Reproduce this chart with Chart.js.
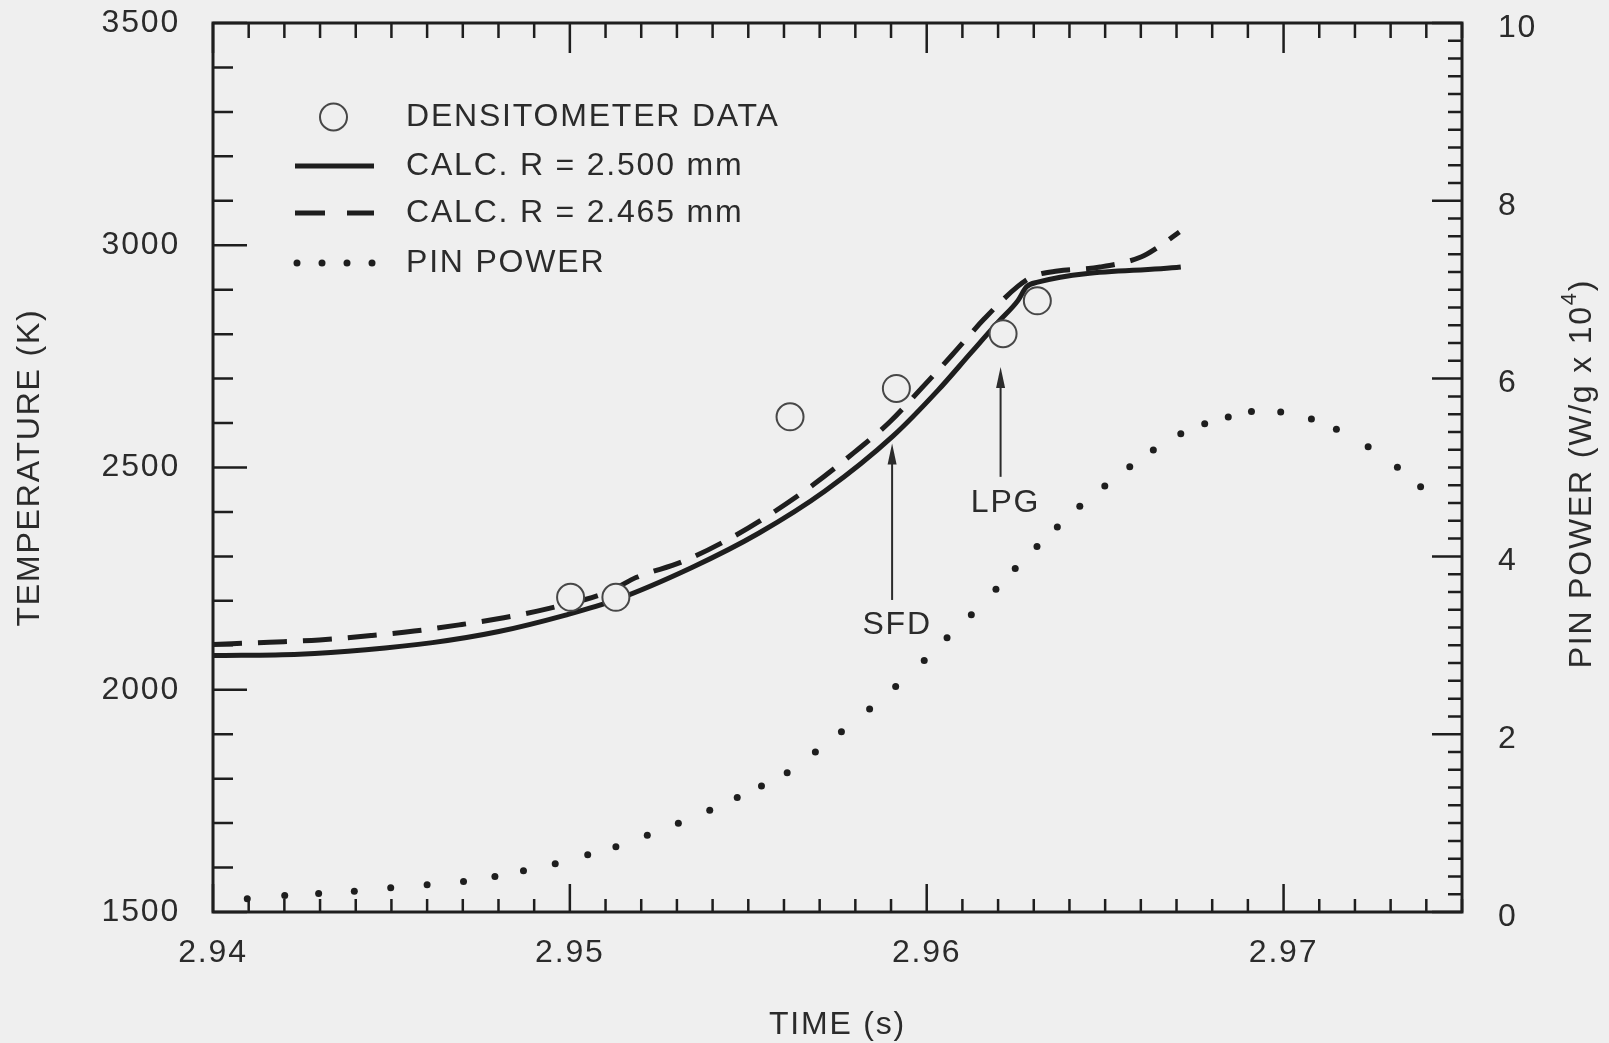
<!DOCTYPE html>
<html><head><meta charset="utf-8">
<script src="https://cdn.jsdelivr.net/npm/chart.js@4.4.1/dist/chart.umd.min.js"></script>
<style>
html,body{margin:0;padding:0;background:#efefef;}
canvas{display:block;}
</style></head>
<body>
<canvas id="c" width="1609" height="1043"></canvas>
<script>
// ---------------- data ----------------
const timeTicks  = [2.94, 2.95, 2.96, 2.97];
const tempTicks  = [1500, 2000, 2500, 3000, 3500];
const powerTicks = [0, 2, 4, 6, 8, 10];

// densitometer data (circles)
const densTime = [2.95002, 2.95129, 2.95617, 2.95915, 2.96214, 2.96310];
const densTemp = [2208, 2208, 2614, 2678, 2801, 2875];

// CALC. R = 2.500 mm (solid)
const solidTime = [2.94000, 2.94242, 2.94429, 2.94615, 2.94801, 2.94988, 2.95128, 2.95342, 2.95529,
                   2.95715, 2.95906, 2.96032, 2.96125, 2.96200, 2.96256, 2.96279, 2.96311, 2.96712];
const solidTemp = [2077, 2080, 2090, 2106, 2131, 2168, 2202, 2275, 2352,
                   2447, 2571, 2674, 2759, 2827, 2876, 2906, 2917, 2951];

// CALC. R = 2.465 mm (dashed)
const dashTime = [2.94000, 2.94158, 2.94298, 2.94443, 2.94564, 2.94690, 2.94815, 2.94942, 2.95109,
                  2.95187, 2.95315, 2.95450, 2.95566, 2.95680, 2.95797, 2.95897, 2.95985, 2.96071,
                  2.96162, 2.96256, 2.96298, 2.96367, 2.96486, 2.96602, 2.96647, 2.96708];
const dashTemp = [2102, 2107, 2112, 2122, 2132, 2146, 2162, 2183, 2221,
                  2253, 2288, 2341, 2397, 2460, 2534, 2603, 2678, 2753,
                  2835, 2908, 2930, 2942, 2951, 2974, 2995, 3030];

// PIN POWER (dots, right axis, W/g x 10^4)
const powerTime = [2.94096, 2.94201, 2.94296, 2.94396, 2.94498, 2.94600, 2.94702, 2.94790, 2.94870,
                   2.94959, 2.95050, 2.95129, 2.95217, 2.95304, 2.95392, 2.95469, 2.95537, 2.95609,
                   2.95688, 2.95761, 2.95840, 2.95913, 2.95993, 2.96057, 2.96125, 2.96194, 2.96248,
                   2.96309, 2.96366, 2.96429, 2.96499, 2.96569, 2.96635, 2.96712, 2.96779, 2.96845,
                   2.96910, 2.96992, 2.97078, 2.97148, 2.97237, 2.97319, 2.97384];
const powerVal  = [0.148, 0.185, 0.208, 0.234, 0.272, 0.306, 0.343, 0.399, 0.463,
                   0.542, 0.643, 0.733, 0.863, 0.998, 1.144, 1.287, 1.418, 1.567,
                   1.800, 2.028, 2.283, 2.537, 2.829, 3.084, 3.343, 3.631, 3.863,
                   4.110, 4.331, 4.564, 4.792, 5.009, 5.197, 5.380, 5.492, 5.567,
                   5.631, 5.624, 5.545, 5.429, 5.234, 5.002, 4.784];

// annotation arrows (time, tip/tail/label temperature)
const arrowLabels = ['SFD', 'LPG'];
const arrowTime   = [2.95903, 2.96207];
const arrowTipK   = [2554, 2726];
const arrowTailK  = [2202, 2479];
const arrowTextK  = [2146, 2420];

// axis ranges / minor steps
const X_MIN = 2.94, X_MAX = 2.975, X_MINOR = 0.001, X_MAJOR_EVERY = 10;
const Y_MIN = 1500, Y_MAX = 3500, Y_MINOR = 100, Y_MAJOR_EVERY = 5;
const P_MIN = 0, P_MAX = 10, P_MINOR = 0.2, P_MAJOR_EVERY = 10;

// ---------------- style ----------------
const INK = '#1e1e1e', TEXT = '#2b2b2b', BG = '#efefef';
const FAMILY = "'Liberation Sans', Arial, Helvetica, sans-serif";
const FSIZE = 32;
const FONT = {family: FAMILY, size: FSIZE, weight: 'normal', lineHeight: 1.2};
const TITLE_FONT = {family: FAMILY, size: FSIZE, weight: 'normal', lineHeight: 1.1};
const LS = '1.8px';

const pts = (xs, ys) => xs.map((v, i) => ({x: v, y: ys[i]}));
const noPad = s => { s.paddingTop = 0; s.paddingBottom = 0; s.paddingLeft = 0; s.paddingRight = 0; };

const frameTicks = {
  id: 'frameTicks',
  beforeDraw(chart) { chart.ctx.letterSpacing = LS; },
  beforeDatasetsDraw(chart) {
    const {ctx, chartArea: a, scales: {x, y, y2}} = chart;
    ctx.save();
    ctx.strokeStyle = INK; ctx.lineWidth = 2.5; ctx.lineCap = 'butt';
    ctx.beginPath();
    const nx = Math.round((X_MAX - X_MIN) / X_MINOR);
    for (let i = 0; i <= nx; i++) {
      const px = x.getPixelForValue(X_MIN + i * X_MINOR);
      const major = i % X_MAJOR_EVERY === 0;
      ctx.moveTo(px, a.bottom); ctx.lineTo(px, a.bottom - (major ? 28 : 13));
      ctx.moveTo(px, a.top);    ctx.lineTo(px, a.top + (major ? 30 : 15));
    }
    const ny = Math.round((Y_MAX - Y_MIN) / Y_MINOR);
    for (let i = 0; i <= ny; i++) {
      const py = y.getPixelForValue(Y_MIN + i * Y_MINOR);
      const major = i % Y_MAJOR_EVERY === 0;
      ctx.moveTo(a.left, py); ctx.lineTo(a.left + (major ? 34 : 20), py);
    }
    const np = Math.round((P_MAX - P_MIN) / P_MINOR);
    for (let i = 0; i <= np; i++) {
      const py = y2.getPixelForValue(P_MIN + i * P_MINOR);
      const major = i % P_MAJOR_EVERY === 0;
      ctx.moveTo(a.right, py); ctx.lineTo(a.right - (major ? 30 : 14), py);
    }
    ctx.stroke();
    ctx.lineWidth = 3;
    ctx.strokeRect(a.left, a.top, a.right - a.left, a.bottom - a.top);
    ctx.restore();
  },
  afterDatasetsDraw(chart) {
    const {ctx, chartArea: a, scales: {x, y}} = chart;
    ctx.save();
    ctx.letterSpacing = LS;
    // arrows
    arrowLabels.forEach((lab, i) => {
      const px = x.getPixelForValue(arrowTime[i]);
      const tip = y.getPixelForValue(arrowTipK[i]);
      const tail = y.getPixelForValue(arrowTailK[i]);
      ctx.strokeStyle = TEXT; ctx.fillStyle = TEXT; ctx.lineWidth = 2;
      ctx.beginPath(); ctx.moveTo(px, tail); ctx.lineTo(px, tip + 10); ctx.stroke();
      ctx.beginPath(); ctx.moveTo(px, tip); ctx.lineTo(px - 4.5, tip + 21); ctx.lineTo(px + 4.5, tip + 21); ctx.closePath(); ctx.fill();
      ctx.font = `${FSIZE}px ${FAMILY}`; ctx.textAlign = 'center'; ctx.textBaseline = 'middle';
      ctx.fillText(lab, px + 5, y.getPixelForValue(arrowTextK[i]));
    });
    // legend
    const ds = chart.data.datasets;
    const L = a.left, T = a.top;
    const symL = L + 82, symR = L + 161, textX = L + 193;
    const rows = [T + 94, T + 143, T + 190, T + 240];
    // circle
    ctx.beginPath(); ctx.arc((symL + symR) / 2 - 1, rows[0], ds[0].pointRadius, 0, Math.PI * 2);
    ctx.fillStyle = BG; ctx.fill(); ctx.lineWidth = ds[0].pointBorderWidth; ctx.strokeStyle = ds[0].pointBorderColor; ctx.stroke();
    // solid
    ctx.strokeStyle = ds[1].borderColor; ctx.lineWidth = ds[1].borderWidth;
    ctx.beginPath(); ctx.moveTo(symL, rows[1]); ctx.lineTo(symR, rows[1]); ctx.stroke();
    // dashed
    ctx.strokeStyle = ds[2].borderColor; ctx.lineWidth = ds[2].borderWidth;
    ctx.beginPath(); ctx.moveTo(symL, rows[2]); ctx.lineTo(symL + 30, rows[2]);
    ctx.moveTo(symL + 52, rows[2]); ctx.lineTo(symR, rows[2]); ctx.stroke();
    // dots
    ctx.fillStyle = ds[3].pointBackgroundColor;
    for (let k = 0; k < 4; k++) {
      ctx.beginPath(); ctx.arc(symL + 2 + k * 25, rows[3], ds[3].pointRadius, 0, Math.PI * 2); ctx.fill();
    }
    ctx.fillStyle = TEXT; ctx.font = `${FSIZE}px ${FAMILY}`; ctx.textAlign = 'left'; ctx.textBaseline = 'middle';
    ds.forEach((d, i) => ctx.fillText(d.label, textX, rows[i]));
    ctx.restore();
  },
  afterDraw(chart) {
    const {ctx, chartArea: a} = chart;
    ctx.save();
    ctx.letterSpacing = LS;
    ctx.fillStyle = TEXT; ctx.textBaseline = 'middle'; ctx.textAlign = 'left';
    const main = 'PIN POWER (W/g x 10', sup = '4', close = ')';
    const fMain = `${FSIZE}px ${FAMILY}`, fSup = `22px ${FAMILY}`;
    ctx.font = fMain; const w1 = ctx.measureText(main).width; const w3 = ctx.measureText(close).width;
    ctx.font = fSup; const w2 = ctx.measureText(sup).width;
    const total = w1 + w2 + w3;
    ctx.translate(1582, (a.top + a.bottom) / 2 + 6);
    ctx.rotate(-Math.PI / 2);
    let cx = -total / 2;
    ctx.font = fMain; ctx.fillText(main, cx, 0); cx += w1;
    ctx.font = fSup; ctx.fillText(sup, cx, -12); cx += w2;
    ctx.font = fMain; ctx.fillText(close, cx, 0);
    ctx.restore();
  }
};

const chart = new Chart(document.getElementById('c'), {
  type: 'line',
  data: {
    datasets: [
      { label: 'DENSITOMETER DATA', data: pts(densTime, densTemp), yAxisID: 'y', showLine: false,
        pointRadius: 13.5, pointBorderWidth: 2, pointBorderColor: '#474747', borderColor: '#474747',
        pointBackgroundColor: BG, backgroundColor: BG },
      { label: 'CALC. R = 2.500 mm', data: pts(solidTime, solidTemp), yAxisID: 'y',
        borderColor: INK, borderWidth: 5, pointRadius: 0, cubicInterpolationMode: 'monotone', fill: false },
      { label: 'CALC. R = 2.465 mm', data: pts(dashTime, dashTemp), yAxisID: 'y',
        borderColor: INK, borderWidth: 5, borderDash: [29, 16], pointRadius: 0,
        cubicInterpolationMode: 'monotone', fill: false },
      { label: 'PIN POWER', data: pts(powerTime, powerVal), yAxisID: 'y2', showLine: false,
        pointRadius: 3.5, pointBorderWidth: 0, pointBackgroundColor: INK, backgroundColor: INK, borderColor: INK }
    ]
  },
  options: {
    responsive: false, animation: false, devicePixelRatio: 1,
    layout: {padding: {top: 23, left: 0, right: 0, bottom: 0}},
    plugins: {legend: {display: false}, tooltip: {enabled: false}},
    scales: {
      x: {
        type: 'linear', position: 'bottom', min: X_MIN, max: X_MAX,
        afterBuildTicks: s => { s.ticks = timeTicks.map(v => ({value: v})); },
        afterFit: s => { s.height = 131; noPad(s); },
        grid: {display: false, drawTicks: false}, border: {display: false},
        ticks: {padding: 22, color: TEXT, font: FONT, maxRotation: 0, callback: v => v.toFixed(2)},
        title: {display: true, text: 'TIME (s)', color: TEXT, font: TITLE_FONT, padding: {top: 0, bottom: 0}}
      },
      y: {
        type: 'linear', position: 'left', min: Y_MIN, max: Y_MAX,
        afterBuildTicks: s => { s.ticks = tempTicks.map(v => ({value: v})); },
        afterFit: s => { s.width = 213; noPad(s); },
        grid: {display: false, drawTicks: false}, border: {display: false},
        ticks: {padding: 33, color: TEXT, font: FONT, callback: v => String(v)},
        title: {display: true, text: 'TEMPERATURE (K)', color: TEXT, font: TITLE_FONT, padding: {top: 13, bottom: 0}}
      },
      y2: {
        type: 'linear', position: 'right', min: P_MIN, max: P_MAX,
        afterBuildTicks: s => { s.ticks = powerTicks.map(v => ({value: v})); },
        afterFit: s => { s.width = 147; noPad(s); },
        grid: {display: false, drawTicks: false}, border: {display: false},
        ticks: {padding: 36, labelOffset: 5, color: TEXT, font: FONT, callback: v => String(v)}
      }
    }
  },
  plugins: [frameTicks]
});
</script>
</body></html>
